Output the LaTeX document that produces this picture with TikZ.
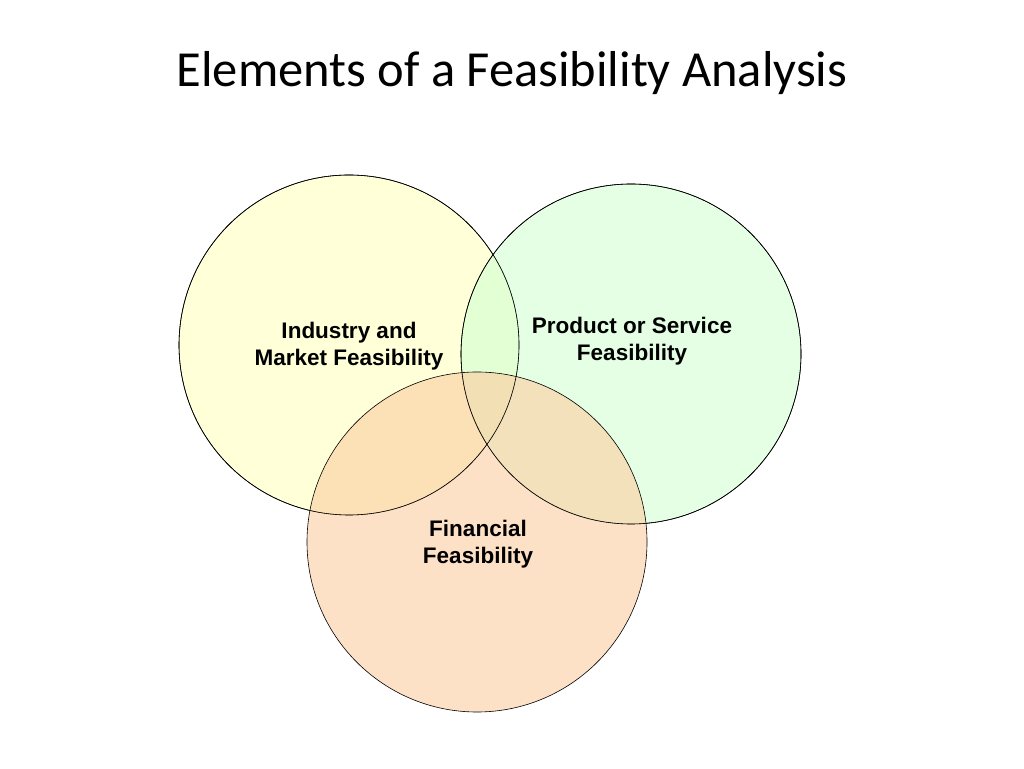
\documentclass[tikz,border=0pt]{standalone}
\usepackage{fontspec}
\setmainfont{Liberation Sans}
\newfontfamily\titlefont{Carlito}
\begin{document}
\begin{tikzpicture}[x=1pt,y=1pt,
  circ/.style={draw=black,line width=0.6pt,fill opacity=0.6},
  lbl/.style={font=\bfseries\fontsize{22.5}{27}\selectfont,align=center}]
\useasboundingbox (0,0) rectangle (1024,768);
\node[font=\titlefont\fontsize{50.5}{60}\selectfont] (title) at (512,695) {Elements of a Feasibility Analysis};
\draw[circ,fill={rgb,255:red,255;green,255;blue,190}] (349,423) circle (170);
\draw[circ,fill={rgb,255:red,210;green,255;blue,210}] (631,414) circle (170);
\draw[circ,fill={rgb,255:red,252;green,205;blue,160}] (477,226) circle (170);
\draw[line width=0.6pt] (349,423) circle (170);
\draw[line width=0.6pt] (631,414) circle (170);
\node[lbl] (ind) at (349,422) {Industry and\\Market Feasibility};
\node[lbl] (prod) at (632,427) {Product or Service\\Feasibility};
\node[lbl] (fin) at (478,224) {Financial\\Feasibility};
\end{tikzpicture}
\end{document}
